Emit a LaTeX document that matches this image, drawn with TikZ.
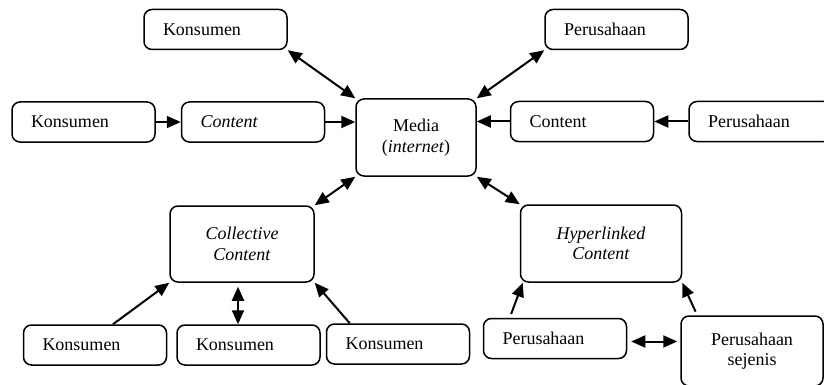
\documentclass[tikz,border=0pt]{standalone}
\usepackage{fontspec}
\setmainfont{Liberation Serif}
\usetikzlibrary{arrows.meta,positioning,calc}

\begin{document}
\begin{tikzpicture}[
      x=1pt,y=1pt,
      font=\fontsize{18}{20.5}\selectfont,
      box/.style={draw,rounded corners=8pt,line width=1.5pt,minimum height=40pt},
      lbox/.style={box,text width=105pt,inner xsep=19pt,align=left},
      cbox/.style={box,align=center},
      arr/.style={-{Triangle[length=14pt,width=12pt]},line width=2pt},
      darr/.style={{Triangle[length=14pt,width=12pt]}-{Triangle[length=14pt,width=12pt]},line width=2pt}
    ]
      \useasboundingbox (0,0) rectangle (824,-385);
      \begin{scope}
      \clip (0,0) rectangle (824,-385);
      % centre
      \node[cbox,minimum width=120pt,minimum height=77pt] (media) at (416,-137.5) {Media\\(\textit{internet})};
      % top row
      \node[lbox] (kTop) at (215.5,-29.5) {Konsumen};
      \node[lbox] (pTop) at (616.5,-29.5) {Perusahaan};
      % middle row
      \node[lbox] (kLeft) at (83.5,-122) {Konsumen};
      \node[lbox,right=25pt of kLeft] (cLeft) {\textit{Content}};
      \node[lbox] (cRight) at (582,-121.5) {Content};
      \node[lbox,right=34pt of cRight] (pRight) {Perusahaan};
      % content types
      \node[cbox,minimum width=144pt,minimum height=76pt] (coll) at (242,-244) {\textit{Collective}\\\textit{Content}};
      \node[cbox,minimum width=161pt,minimum height=77pt] (hyper) at (601,-243.5) {\textit{Hyperlinked}\\\textit{Content}};
      % bottom row
      \node[lbox] (kB1) at (95,-345) {Konsumen};
      \node[lbox,right=9pt of kB1] (kB2) {Konsumen};
      \node[lbox] (kB3) at (398,-344) {Konsumen};
      \node[lbox] (pBot) at (555,-338.5) {Perusahaan};
      \node[cbox,minimum width=142pt,minimum height=70pt] (pSej) at (752,-351) {Perusahaan\\sejenis};
      \end{scope}
      % connectors
      \draw[darr] (kTop.south east) -- (media.north west);
      \draw[darr] (pTop.south west) -- (media.north east);
      \draw[arr] (kLeft) -- (cLeft);
      \draw[arr] (cLeft.east) -- (cLeft.east -| media.west);
      \draw[arr] (cRight.west) -- (cRight.west -| media.east);
      \draw[arr] (pRight) -- (cRight);
      \draw[darr] (media.south west) -- (coll.north east);
      \draw[darr] (media.south east) -- (hyper.north west);
      \draw[arr] ([xshift=18pt]kB1.north) -- (coll.south west);
      \draw[darr,shorten <=4pt] ([xshift=-4pt]coll.south) -- ([xshift=-4pt]coll.south |- kB2.north);
      \draw[arr] ([xshift=24pt]kB3.north west) -- (coll.south east);
      \draw[arr,shorten <=4pt] ([xshift=27pt]pBot.north west) -- ([xshift=3pt]hyper.south west);
      \draw[arr,shorten <=4pt] ([xshift=17pt]pSej.north west) -- (hyper.south east);
      \draw[darr,shorten <=4pt,shorten >=3pt] ([yshift=-3pt]pBot.east) -- ([yshift=-3pt]pBot.east -| pSej.west);
    \end{tikzpicture}
\end{document}
